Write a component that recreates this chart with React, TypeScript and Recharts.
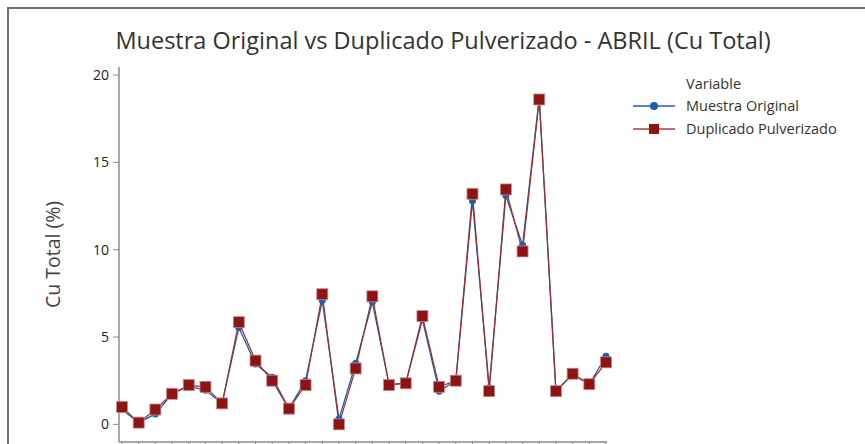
import { LineChart, Line, XAxis, YAxis } from "recharts";

const samples = Array.from({ length: 30 }, (_, i) => i + 1);
const muestraOriginal = [0.85, 0.1, 0.6, 1.75, 2.2, 1.95, 1.2, 5.55, 3.45, 2.7, 0.9, 2.5, 7.1, 0.3, 3.5, 7.0, 2.3, 2.35, 6.0, 1.9, 2.5, 12.8, 2.1, 13.1, 10.25, 18.7, 1.9, 2.85, 2.3, 3.9];
const duplicadoPulverizado = [1.0, 0.1, 0.85, 1.75, 2.25, 2.15, 1.2, 5.85, 3.65, 2.5, 0.9, 2.25, 7.45, 0.0, 3.2, 7.33, 2.25, 2.35, 6.2, 2.15, 2.5, 13.2, 1.9, 13.45, 9.9, 18.6, 1.9, 2.9, 2.3, 3.55];
const yTicks = [0, 5, 10, 15, 20];

const data = samples.map((n, i) => ({
  n,
  original: muestraOriginal[i],
  duplicado: duplicadoPulverizado[i],
}));

const BLUE = "#1a5fb4";
const RED = "#8e1414";
const FONT = "'Open Sans', 'Noto Sans', sans-serif";

const SquareDot = (props: any) => {
  const { cx, cy, index } = props;
  if (cx == null || cy == null) return null;
  return <rect key={`sq-${index}`} x={cx - 5.5} y={cy - 5.5} width={11} height={11} fill={RED} stroke="#c98a8a" strokeWidth={0.8} />;
};

const LegendBox = () => (
  <div style={{ fontFamily: FONT, fontSize: 14.5, color: "#333" }}>
    <div style={{ marginLeft: 56, height: 20, lineHeight: "20px" }}>Variable</div>
    <div style={{ display: "flex", alignItems: "center", height: 23 }}>
      <svg width={56} height={16}>
        <line x1={3} x2={45} y1={8} y2={8} stroke={BLUE} strokeWidth={1.5} />
        <circle cx={24} cy={8} r={4} fill={BLUE} />
      </svg>
      <span>Muestra Original</span>
    </div>
    <div style={{ display: "flex", alignItems: "center", height: 23 }}>
      <svg width={56} height={16}>
        <line x1={3} x2={45} y1={8} y2={8} stroke="#b23b3b" strokeWidth={1.5} />
        <rect x={19} y={3} width={10} height={10} fill={RED} />
      </svg>
      <span>Duplicado Pulverizado</span>
    </div>
  </div>
);

export default function App() {
  return (
    <div style={{ position: "fixed", left: 0, top: 0, width: 865, height: 444, overflow: "hidden", background: "#fff" }}>
      <div style={{ position: "absolute", left: 7, top: 7, width: 900, height: 500, borderTop: "2px solid #6f6f6f", borderLeft: "2px solid #6f6f6f" }} />
      <div style={{ position: "absolute", left: 0, width: 886, top: 24, textAlign: "center", fontFamily: FONT, fontSize: 23.5, color: "#333" }}>
        Muestra Original vs Duplicado Pulverizado - ABRIL (Cu Total)
      </div>
      <div style={{ position: "absolute", left: 630, top: 74, width: 235 }}>
        <LegendBox />
      </div>
      <div style={{ position: "absolute", left: 0, top: 0 }}>
        <LineChart width={865} height={470} data={data} margin={{ top: 67, right: 258, bottom: 0, left: 0 }}>
          <XAxis
            dataKey="n"
            type="number"
            domain={[0.82, 30.06]}
            ticks={samples}
            tickFormatter={() => ""}
            height={28}
            tickSize={4}
            axisLine={{ stroke: "#8a8a8a", strokeWidth: 1.5 }}
            tickLine={{ stroke: "#8a8a8a" }}
          />
          <XAxis xAxisId="top" orientation="top" type="number" domain={[0.82, 30.06]} height={0} tick={false} tickLine={false} axisLine={{ stroke: "#8a8a8a", strokeWidth: 1.5 }} />
          <YAxis
            type="number"
            domain={[-1.01, 20.46]}
            ticks={yTicks}
            width={119}
            tickSize={6}
            tickMargin={4}
            tick={{ fill: "#222", fontSize: 14, fontFamily: FONT }}
            axisLine={{ stroke: "#8a8a8a", strokeWidth: 1.5 }}
            tickLine={{ stroke: "#8a8a8a" }}
            label={{ value: "Cu Total (%)", angle: -90, position: "center", dx: -6, fill: "#444", fontSize: 19.5, fontFamily: FONT }}
          />
          <YAxis yAxisId="right" orientation="right" type="number" domain={[-1.01, 20.46]} width={0} tick={false} tickLine={false} axisLine={{ stroke: "#8a8a8a", strokeWidth: 1.5 }} />
          <Line
            type="linear"
            dataKey="original"
            name="Muestra Original"
            stroke={BLUE}
            strokeWidth={1.3}
            dot={{ r: 3.5, fill: BLUE, stroke: BLUE, strokeWidth: 0 }}
            isAnimationActive={false}
          />
          <Line
            type="linear"
            dataKey="duplicado"
            name="Duplicado Pulverizado"
            stroke="#a52a2a"
            strokeWidth={1.2}
            dot={SquareDot}
            isAnimationActive={false}
          />
        </LineChart>
      </div>
    </div>
  );
}
